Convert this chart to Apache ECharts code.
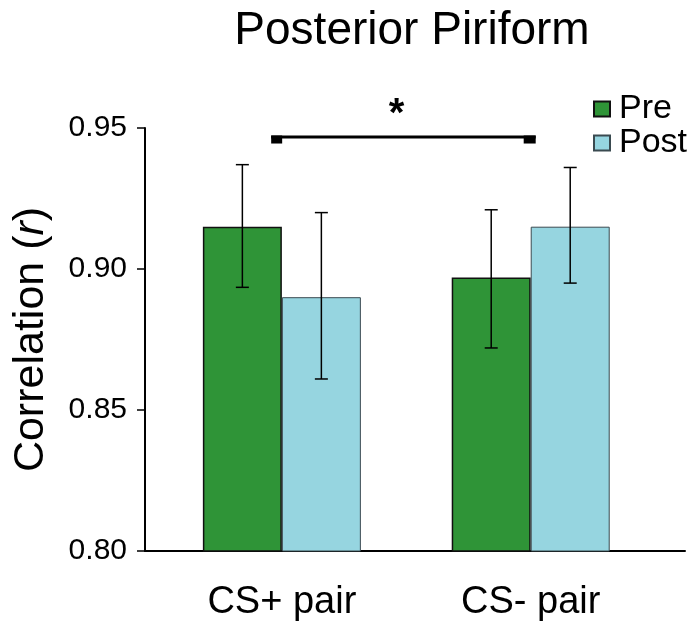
<!DOCTYPE html>
<html>
<head>
<meta charset="utf-8">
<script src="https://cdn.jsdelivr.net/npm/echarts@6/dist/echarts.min.js"></script>
<style>html,body{margin:0;padding:0;background:#fff;}#c{width:699px;height:627px;}</style>
</head>
<body>
<div id="c"></div>
<script>
// ---- data ----
const categories = ['CS+ pair', 'CS- pair'];
const categoryPos = [0, 1];
const preValues = [0.915, 0.897];
const postValues = [0.890, 0.915];
const preErrLow = [0.8935, 0.872];
const preErrHigh = [0.937, 0.921];
const postErrLow = [0.861, 0.895];
const postErrHigh = [0.920, 0.936];
const yTicks = [0.80, 0.85, 0.90, 0.95];
const sigFrom = -0.043, sigTo = 1.02, sigLevel = 0.9468, sigLabel = '*';

const FONT = 'Liberation Sans, Arial, Helvetica, sans-serif';
const BAR_W = 79;
const chart = echarts.init(document.getElementById('c'), null, {renderer: 'canvas'});

const errData = [];
categoryPos.forEach((x, i) => {
  errData.push([x, preErrLow[i], preErrHigh[i], -1]);
  errData.push([x, postErrLow[i], postErrHigh[i], 1]);
});

chart.setOption({
  animation: false,
  backgroundColor: '#fff',
  title: {
    text: 'Posterior Piriform', left: 407, top: 3, textAlign: 'center',
    textStyle: {fontFamily: FONT, fontSize: 46, fontWeight: 'normal', color: '#000'}
  },
  legend: {
    orient: 'vertical', left: 588, top: 87, itemGap: 0,
    itemWidth: 16, itemHeight: 15, icon: 'rect',
    textStyle: {fontFamily: FONT, fontSize: 34, color: '#000', lineHeight: 33, padding: [0, 0, 0, 4]},
    data: ['Pre', 'Post']
  },
  grid: {left: 145, right: 14, top: 128, bottom: 76},
  xAxis: {
    type: 'value', min: -0.55, max: 1.62,
    splitLine: {show: false},
    axisTick: {show: false},
    axisLine: {show: true, onZero: false, lineStyle: {color: '#000', width: 2}},
    axisLabel: {
      customValues: categoryPos,
      formatter: v => categories[Math.round(v)],
      fontFamily: FONT, fontSize: 38, color: '#000', margin: 33
    }
  },
  yAxis: {
    type: 'value', min: 0.80, max: 0.95, interval: 0.05,
    splitLine: {show: false},
    axisLine: {show: true, onZero: false, lineStyle: {color: '#000', width: 2}},
    axisTick: {show: true, length: 8, lineStyle: {color: '#000', width: 1.5}},
    axisLabel: {
      formatter: v => v.toFixed(2), fontFamily: FONT, fontSize: 30, color: '#000', margin: 18
    },
    name: '{n|Correlation (}{i|r}{n|)}',
    nameLocation: 'middle', nameRotate: 90, nameGap: 92,
    nameTextStyle: {
      fontFamily: FONT, fontSize: 43, color: '#000',
      rich: {
        n: {fontFamily: FONT, fontSize: 43, color: '#000'},
        i: {fontFamily: FONT, fontSize: 43, color: '#000', fontStyle: 'italic'}
      }
    }
  },
  series: [
    {
      name: 'Pre', type: 'bar', barWidth: BAR_W, barGap: '0%',
      itemStyle: {color: '#2f9437', borderColor: '#111', borderWidth: 1.5},
      data: categoryPos.map((x, i) => [x, preValues[i]]),
      z: 2
    },
    {
      name: 'Post', type: 'bar', barWidth: BAR_W, barGap: '0%',
      itemStyle: {color: '#96d5e0', borderColor: '#3a4a50', borderWidth: 1},
      data: categoryPos.map((x, i) => [x, postValues[i]]),
      z: 2
    },
    {
      type: 'custom', z: 5, silent: true,
      data: errData,
      encode: {x: 0, y: [1, 2]},
      renderItem: function (params, api) {
        const x = api.value(0), lo = api.value(1), hi = api.value(2), side = api.value(3);
        const pLo = api.coord([x, lo]);
        const pHi = api.coord([x, hi]);
        const cx = pLo[0] + side * BAR_W / 2;
        const cap = 6.5;
        const st = {stroke: '#000', lineWidth: 1.5};
        return {
          type: 'group',
          children: [
            {type: 'line', shape: {x1: cx, y1: pHi[1], x2: cx, y2: pLo[1]}, style: st},
            {type: 'line', shape: {x1: cx - cap, y1: pHi[1], x2: cx + cap, y2: pHi[1]}, style: st},
            {type: 'line', shape: {x1: cx - cap, y1: pLo[1], x2: cx + cap, y2: pLo[1]}, style: st}
          ]
        };
      }
    },
    {
      type: 'custom', z: 6, silent: true, clip: false,
      data: [[sigFrom, sigTo, sigLevel]],
      encode: {x: [0, 1], y: 2},
      renderItem: function (params, api) {
        const p0 = api.coord([api.value(0), api.value(2)]);
        const p1 = api.coord([api.value(1), api.value(2)]);
        const mid = api.coord([(api.value(0) + api.value(1)) / 2 - 0.028, api.value(2)]);
        return {
          type: 'group',
          children: [
            {type: 'rect', shape: {x: p0[0], y: p0[1] - 1.5, width: p1[0] - p0[0], height: 3}, style: {fill: '#000'}},
            {type: 'rect', shape: {x: p0[0], y: p0[1] - 1.5, width: 11, height: 8}, style: {fill: '#000'}},
            {type: 'rect', shape: {x: p1[0] - 12, y: p1[1] - 1.5, width: 12, height: 8}, style: {fill: '#000'}},
            {type: 'text', x: mid[0], y: mid[1] - 42,
             style: {text: sigLabel, fill: '#000', font: 'bold 40px ' + FONT, align: 'center', verticalAlign: 'top'}}
          ]
        };
      }
    }
  ]
});
</script>
</body>
</html>
